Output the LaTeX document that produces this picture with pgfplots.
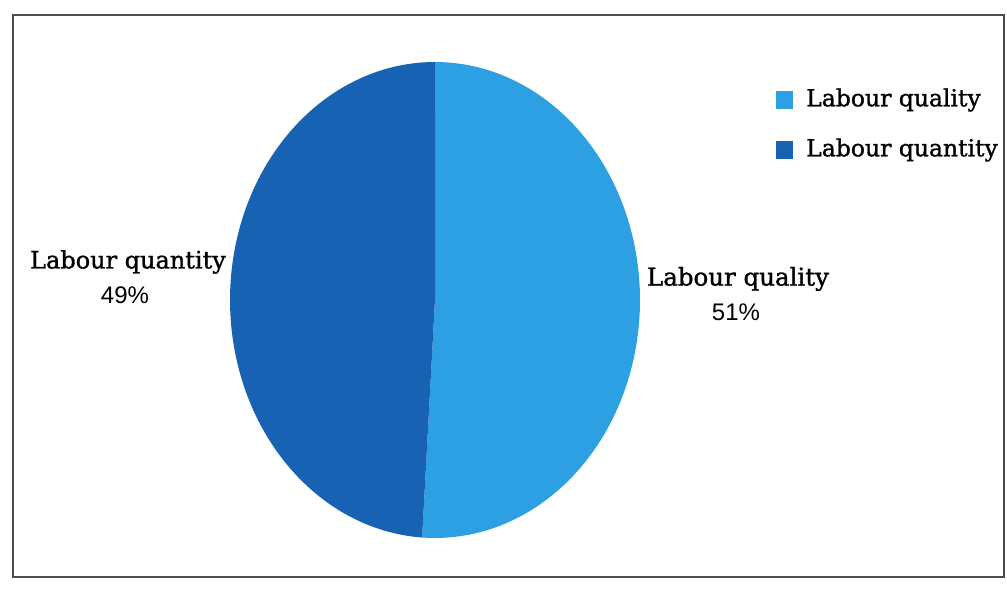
\documentclass[border=0pt]{standalone}
\usepackage{pgfplots}
\pgfplotsset{compat=1.18}
\usepackage{pgfplotstable}
\usepackage{fontspec}
\setmainfont{DejaVu Serif}[FakeBold=1.2]
\newfontfamily\labfont{DejaVu Serif}[FakeBold=1.2]
\newfontfamily\numfont{Liberation Sans}
\definecolor{qual}{HTML}{2D9FE3}
\definecolor{quan}{HTML}{1862B4}
\pgfplotstableread{
label value
quality 51
quantity 49
}\piedata
\pgfplotstablegetelem{0}{value}\of\piedata\let\vqual\pgfplotsretval
\pgfplotstablegetelem{1}{value}\of\piedata\let\vquan\pgfplotsretval
\pgfmathsetmacro\astart{90}
\pgfmathsetmacro\amid{90-3.6*\vqual}
\pgfmathsetmacro\aend{\amid-3.6*\vquan}
\def\cx{435}\def\cy{290}\def\rx{205}\def\ry{238}
\begin{document}
\begin{tikzpicture}
\begin{axis}[
  width=1007bp, height=590bp, scale only axis,
  xmin=0, xmax=1007, ymin=0, ymax=590,
  hide axis, clip=false,
]
\path (axis cs:0,0) rectangle (axis cs:1007,590);
\draw[line width=1.6pt, draw=black!70] (axis cs:13,13) rectangle (axis cs:1004,575);
\addplot[fill=qual, draw=none, domain=\astart:\amid, samples=150, variable=\t]
  ({\cx+\rx*cos(\t)},{\cy+\ry*sin(\t)}) -- (axis cs:\cx,\cy) -- cycle;
\addplot[fill=quan, draw=none, domain=\amid:\aend, samples=150, variable=\t]
  ({\cx+\rx*cos(\t)},{\cy+\ry*sin(\t)}) -- (axis cs:\cx,\cy) -- cycle;
\node[font=\labfont\fontsize{24bp}{26bp}\selectfont] at (axis cs:128,328) {Labour quantity};
\node[font=\numfont\fontsize{24bp}{26bp}\selectfont] at (axis cs:125,295) {\vquan\%};
\node[font=\labfont\fontsize{24.5bp}{26bp}\selectfont] at (axis cs:738,311) {Labour quality};
\node[font=\numfont\fontsize{24bp}{26bp}\selectfont] at (axis cs:736,278) {\vqual\%};
\fill[qual] (axis cs:776,481) rectangle (axis cs:793,499);
\fill[quan] (axis cs:776,431) rectangle (axis cs:793,449);
\node[font=\labfont\fontsize{23.5bp}{26bp}\selectfont, anchor=west, inner sep=0pt] at (axis cs:806,490) {Labour quality};
\node[font=\labfont\fontsize{23.5bp}{26bp}\selectfont, anchor=west, inner sep=0pt] at (axis cs:806,440) {Labour quantity};
\end{axis}
\end{tikzpicture}
\end{document}
